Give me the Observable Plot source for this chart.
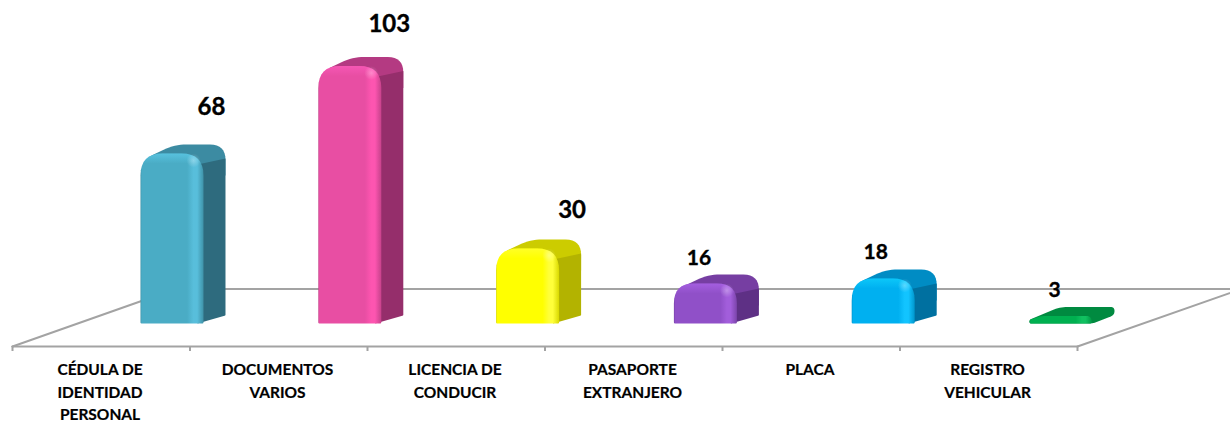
<!DOCTYPE html>
<html>
<head>
<meta charset="utf-8">
<script src="https://cdn.jsdelivr.net/npm/d3@7"></script>
<script src="https://cdn.jsdelivr.net/npm/@observablehq/plot@0.6"></script>
<style>
html,body{margin:0;padding:0;background:#fff}
svg{display:block}
</style>
</head>
<body>
<div id="chart"></div>
<script>
// ---- data ----
const categories = ["CÉDULA DE\nIDENTIDAD\nPERSONAL","DOCUMENTOS\nVARIOS","LICENCIA DE\nCONDUCIR","PASAPORTE\nEXTRANJERO","PLACA","REGISTRO\nVEHICULAR"];
const values = [68,103,30,16,18,3];
const frontColors = ["#4aacc5","#e84ea3","#ffff00","#9050c8","#00b0f0","#00b050"];
const glowColors  = ["#58bedb","#fd55b0","#ffff3a","#a25edb","#12c4ff","#10c060"];
const capColors   = ["#3c8ba2","#b43a82","#cccc00","#763ea2","#008cc4","#008a40"];
const sideColors  = ["#2e6b7e","#952e6b","#b3b300","#5e3085","#0070a0","#007838"];

// ---- layout ratios ----
const pxX = 177.5, pxY = 2.5;           // pixels per x unit (one category) / per y unit (one count)
const W = 63, DX = 22, DY = 9;           // bar front width and 3D depth, px
const barLeft = i => 0.7211 + i * 1.0017;
const floorY = -23 / pxY, backY = 34.5 / pxY, backX = 163 / pxX, farX = 1226 / pxX;
const labelDX = [71,71,76,25,24,25], labelDY = [46,42,38,25,26,26], labelSize = [24,24,24,21,21,21];

// rounded polygon, vertices in px offsets from the bar's base-left corner
function poly(i, verts) {
  const pts = [], n = verts.length;
  verts.forEach((v, k) => {
    const a = verts[(k + n - 1) % n], b = verts[(k + 1) % n];
    const la = Math.hypot(a[0]-v[0], a[1]-v[1]), lb = Math.hypot(b[0]-v[0], b[1]-v[1]);
    const r = Math.min(v[2] || 0, la / 2, lb / 2);
    if (!r) { pts.push([v[0], v[1]]); return; }
    const p0 = [v[0] + (a[0]-v[0]) * r/la, v[1] + (a[1]-v[1]) * r/la];
    const p2 = [v[0] + (b[0]-v[0]) * r/lb, v[1] + (b[1]-v[1]) * r/lb];
    for (let t = 0; t <= 1.0001; t += 0.125) {
      const u = 1 - t;
      pts.push([u*u*p0[0] + 2*u*t*v[0] + t*t*p2[0], u*u*p0[1] + 2*u*t*v[1] + t*t*p2[1]]);
    }
  });
  return pts.map(p => ({x: barLeft(i) + p[0] / pxX, y: p[1] / pxY}));
}

function defs() {
  const svg = d3.create("svg:defs");
  frontColors.forEach((c, i) => {
    const g = svg.append("linearGradient").attr("id", "front" + i);
    [[0, d3.color(c).darker(0.5)], [0.02, c], [0.74, c], [0.84, glowColors[i]], [0.9, glowColors[i]], [1, d3.color(c).darker(0.45)]]
      .forEach(([o, k]) => g.append("stop").attr("offset", o).attr("stop-color", k));
    const s = svg.append("linearGradient").attr("id", "side" + i);
    [[0, d3.color(sideColors[i]).darker(0.2)], [0.2, sideColors[i]], [1, sideColors[i]]]
      .forEach(([o, k]) => s.append("stop").attr("offset", o).attr("stop-color", k));
    // the light rim fades out a fixed distance below the bar's top
    const t = svg.append("linearGradient").attr("id", "top" + i).attr("x2", 0).attr("y2", 1);
    [[0, 0.6], [Math.min(1, 10 / (values[i] * pxY)), 0]]
      .forEach(([o, a]) => t.append("stop").attr("offset", o).attr("stop-color", d3.color(glowColors[i]).brighter(0.25)).attr("stop-opacity", a));
  });
  const r = svg.append("radialGradient").attr("id", "spot");
  r.append("stop").attr("offset", 0).attr("stop-color", "#fff").attr("stop-opacity", 0.3);
  r.append("stop").attr("offset", 1).attr("stop-color", "#fff").attr("stop-opacity", 0);
  return svg.node();
}

const lineStyle = {x: "x", y: "y", stroke: "#a3a3a3", strokeWidth: 2};
const floorPath = [{x: 0, y: floorY}, {x: backX, y: backY}, {x: farX + 1, y: backY}];
const floorFront = [{x: 6, y: floorY}, {x: 6 + 161 / pxX, y: floorY + 56.5 / pxY}];
const axisLine = [{x: 0, y: floorY}, {x: 6, y: floorY}];

const barMarks = values.flatMap((v, i) => {
  const h = v * pxY;
  const opts = {x: "x", y: "y", stroke: "none"};
  if (h < 10) { // a very low bar reads as one flat slab
    const slab = poly(i, [[0,0,4],[0,h*.5,4],[30,h+DY,8],[W+DX,h+DY,7],[W+DX,h+1,4],[W,0,3]]);
    const face = poly(i, [[0,0,4],[0,h*.5,4],[12,h,5],[W-2,h,6],[W,0,3]]);
    return [
      Plot.line(slab, {...opts, fill: capColors[i]}),
      Plot.line(face, {...opts, fill: `url(#front${i})`})
    ];
  }
  const rt = 22, outer = 20;
  const cap = poly(i, [[11,h-2],[34,h+DY,12],[W+DX,h+DY,outer],[W+DX,h-rt],[11,h-rt]]);
  const side = poly(i, [[W-6,0],[W+DX,DY-1,1],[W+DX,h-5],[W-6,h-rt/2]]);
  const front = poly(i, [[0,0,1.5],[0,h,rt],[W,h,rt],[W,0,1.5]]);
  return [
    Plot.line(cap,   {...opts, fill: capColors[i]}),
    Plot.line(side,  {...opts, fill: `url(#side${i})`}),
    Plot.line(front, {...opts, fill: `url(#front${i})`}),
    Plot.line(front, {...opts, fill: `url(#top${i})`}),
    Plot.dot([{x: barLeft(i) + (W - 10) / pxX, y: v - 7 / pxY}], {x: "x", y: "y", r: 7, fill: "url(#spot)", stroke: "none"})
  ];
});

const chart = Plot.plot({
  width: 1230, height: 423,
  margin: 0,
  x: {domain: [-12 / pxX, 1218 / pxX], range: [0, 1230], axis: null},
  y: {domain: [-100 / pxY, 323 / pxY], range: [423, 0], axis: null},
  style: {fontFamily: "Lato, sans-serif", background: "#fff", color: "#000"},
  marks: [
    defs,
    Plot.line(floorPath, lineStyle),
    Plot.line(floorFront, lineStyle),
    Plot.line(axisLine, lineStyle),
    Plot.ruleX(d3.range(7), {y1: floorY, y2: floorY - 5 / pxY, stroke: "#a3a3a3", strokeWidth: 2}),
    ...barMarks,
    Plot.text(values, {
      x: (d, i) => barLeft(i) + labelDX[i] / pxX,
      y: (d, i) => d + labelDY[i] / pxY,
      text: d => String(d),
      fontSize: (d, i) => labelSize[i],
      fontWeight: 700,
      fill: "#000",
      stroke: "#000",
      strokeWidth: 0.35
    }),
    Plot.text(categories, {
      x: (d, i) => i + 0.493,
      y: -36 / pxY,
      text: d => d,
      lineAnchor: "top",
      lineHeight: 1.45,
      fontSize: 15.5,
      fontWeight: 700,
      fill: "#000",
      stroke: "#000",
      strokeWidth: 0.2
    })
  ]
});
document.getElementById("chart").append(chart);
</script>
</body>
</html>
